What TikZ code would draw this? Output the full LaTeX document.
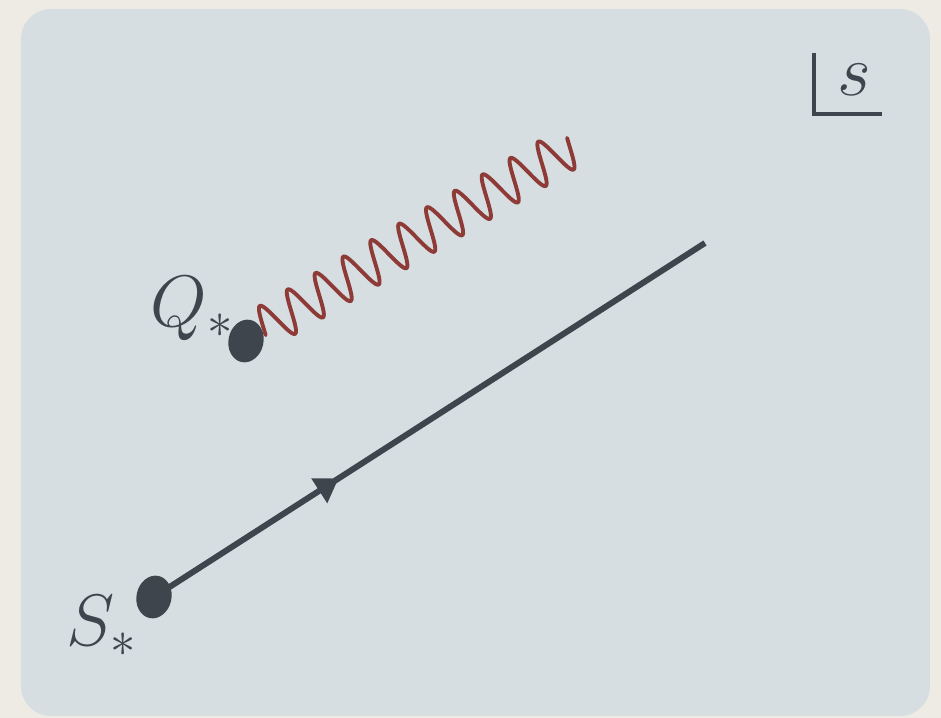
\documentclass[tikz,border=0pt]{standalone}
\usetikzlibrary{shapes.geometric,arrows.meta,decorations.markings}
\definecolor{paper}{HTML}{EEEBE5}
\definecolor{panel}{HTML}{D6DEE1}
\definecolor{ink}{HTML}{3E454C}
\definecolor{wavered}{HTML}{8E3A36}
\tikzset{
  dot/.style={ellipse,fill=ink,inner sep=0pt,minimum width=0.35cm,minimum height=0.43cm},
  lbl/.style={text=ink,inner sep=0pt,anchor=base west,font=\fontsize{20}{24}\selectfont},
  wave/.style={wavered,line width=1.1pt,line cap=round,line join=round},
  ray/.style={ink,line width=1.7pt,postaction={decorate},
    decoration={markings,mark=at position 0.335 with {\arrow{Triangle[length=0.23cm,width=0.28cm]}}}}
}
\begin{document}
\begin{tikzpicture}[x=0.01cm,y=-0.01cm]
  \fill[paper] (0,0) rectangle (941,718);
  \fill[panel,rounded corners=0.3cm] (21,9) rectangle (930,716);
  % corner mark
  \draw[ink,line width=1.4pt] (814,53) -- (814,114) -- (882,114);
  \node[lbl] (s) at (837,95) {$s$};
  \coordinate (lend) at (705,243);
  \coordinate (wstart) at (262,329);
  \node[dot,rotate=-12] (S) at (154,597) {};
  \node[dot,rotate=-12] (Q) at (246,341) {};
  \draw[ray] (S.center) -- (lend);
  % sine along the axis, 11 periods
  \begin{scope}[shift={(wstart)}]
    \draw[wave] plot[domain=0:360,samples=400,smooth,variable=\t]
      ({0.861*\t-0.508*21*sin(11.131*\t-20)},{-0.508*\t-0.861*21*sin(11.131*\t-20)});
  \end{scope}
  \node[lbl] (Qlbl) at (150,327) {$Q_*$};
  \node[lbl] (Slbl) at (66,646) {$S_*$};
\end{tikzpicture}
\end{document}
